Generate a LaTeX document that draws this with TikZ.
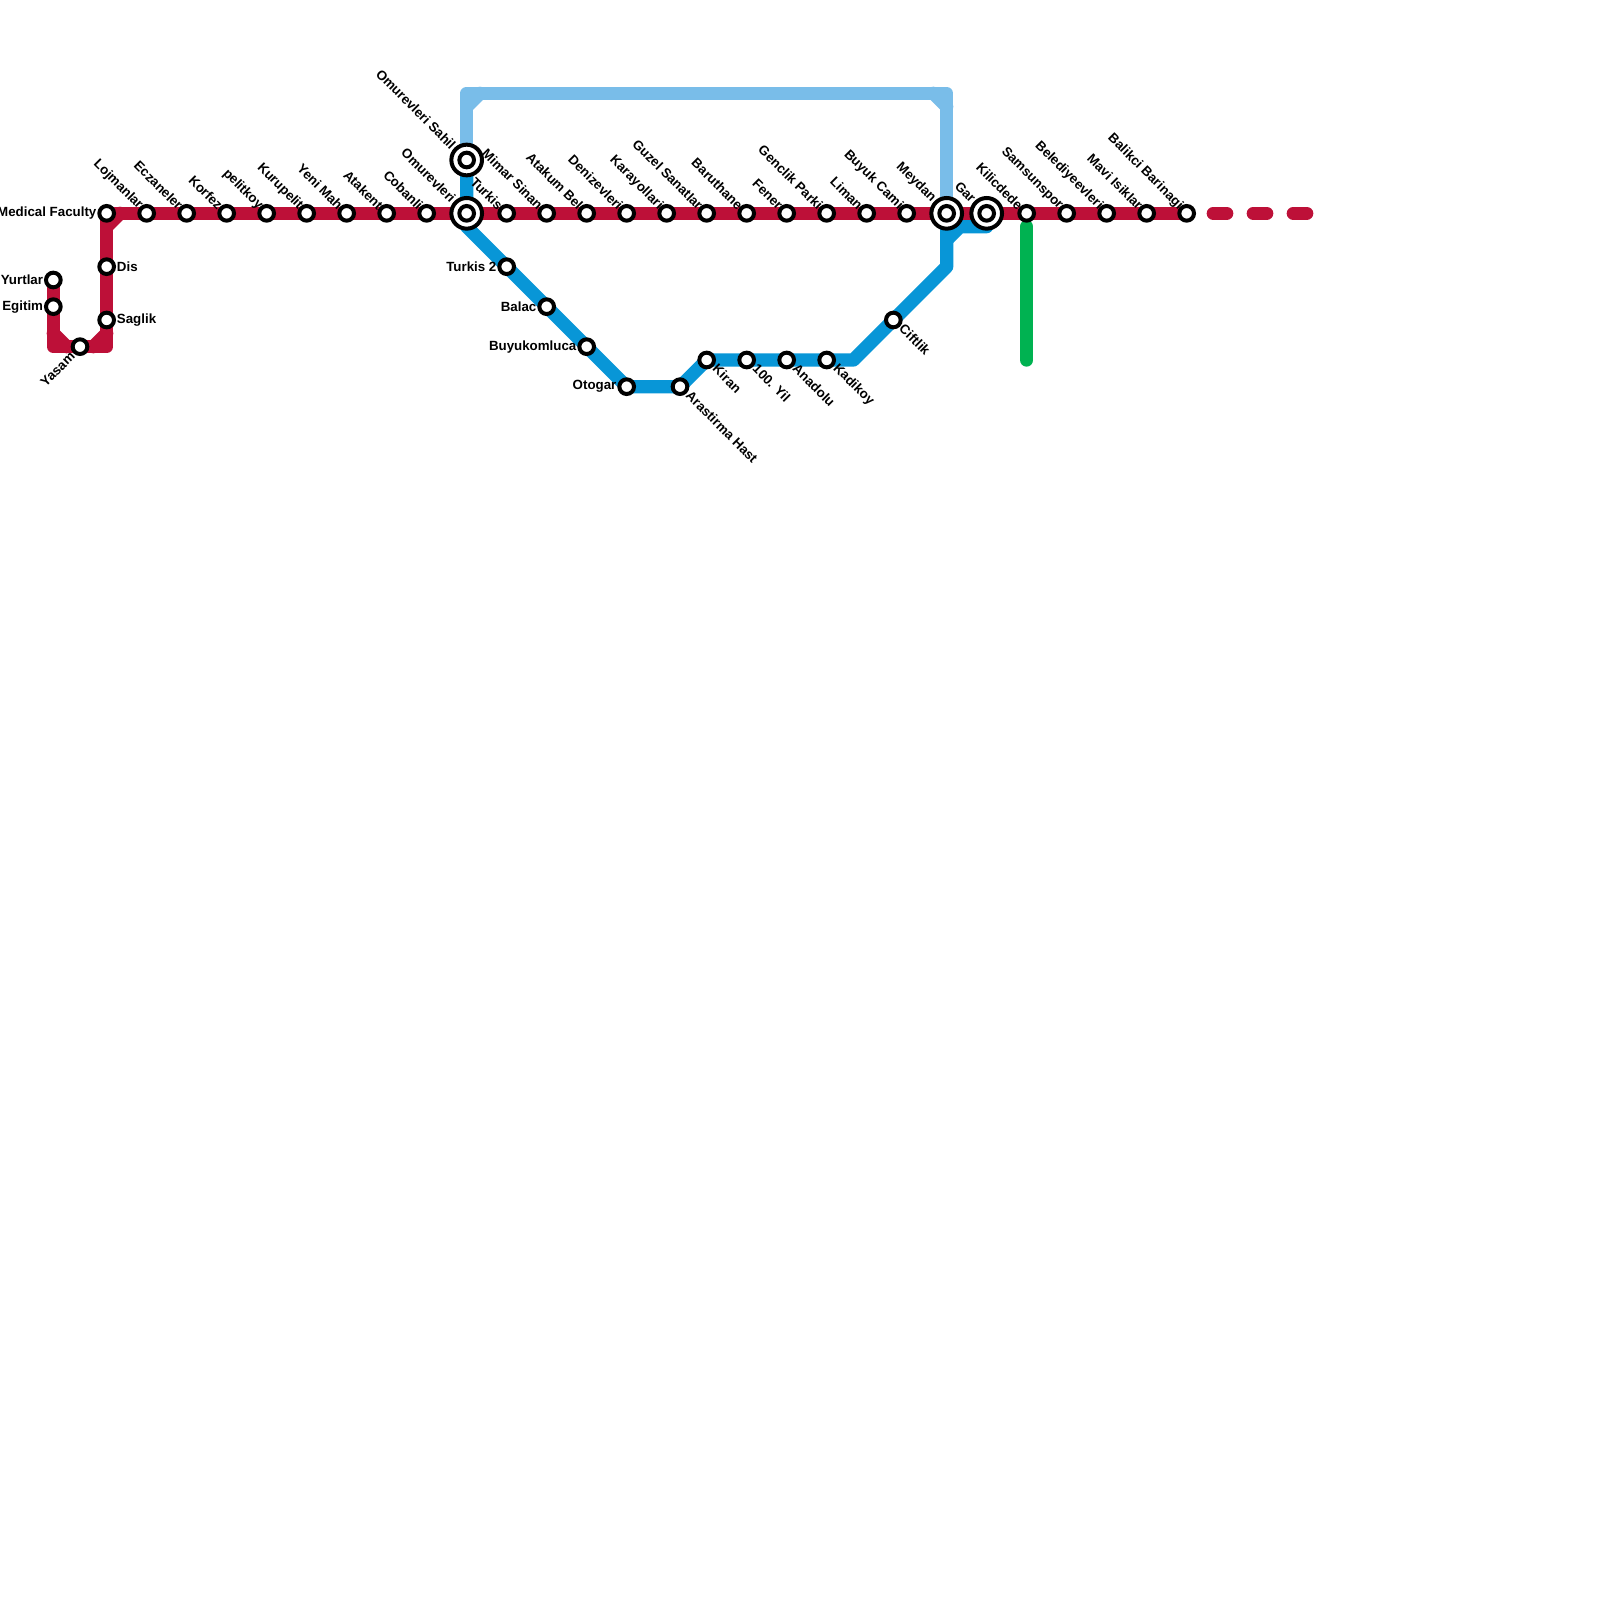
\documentclass[tikz,border=0pt]{standalone}
\usepackage{fontspec}
\setmainfont{Liberation Sans}
\usetikzlibrary{backgrounds}
\definecolor{cred}{HTML}{BD1038}
\definecolor{cblue}{HTML}{0896D7}
\definecolor{csky}{HTML}{79BDE9}
\definecolor{cgreen}{HTML}{00B251}
\tikzset{
  every picture/.style={x=0.25cm, y=0.25cm},
  stn/.style={circle, draw=black, fill=white, line width=0.075cm, minimum size=0.275cm, inner sep=0pt},
  bigstn/.style={circle, draw=black, fill=white, line width=0.075cm, minimum size=0.575cm, inner sep=0pt},
  metro/.style={draw=#1, line width=0.25cm, line join=round, line cap=round},
  toplabel/.style={font=\bfseries\fontsize{7.11}{8}\selectfont, rotate=-45, anchor=east, inner sep=0.5pt, xshift=#1},
  toplabel/.default=1.07pt,
  botlabel/.style={font=\bfseries\fontsize{7.11}{8}\selectfont, rotate=-45, anchor=west, inner sep=0.5pt, yshift=0.7pt},
  yasamlabel/.style={font=\bfseries\fontsize{7.11}{8}\selectfont, rotate=45, anchor=east, inner sep=0.5pt},
  sidelabel/.style={font=\bfseries\fontsize{7.11}{8}\selectfont, inner sep=0.3pt},
}
\begin{document}
\begin{tikzpicture}
  \useasboundingbox (0,0) rectangle (120,-120);

  \node[stn, label={[sidelabel]180:Yurtlar}] (yurtlar) at (4,-21) {};
  \node[stn, label={[sidelabel]180:Egitim}] (egitim) at (4,-23) {};
  \node[stn, label={[yasamlabel]225:Yasam}] (yasam) at (6,-26) {};
  \node[stn, label={[sidelabel]0:Saglik}] (saglik) at (8,-24) {};
  \node[stn, label={[sidelabel]0:Dis}] (dis) at (8,-20) {};
  \node[stn, label={[sidelabel]180:Medical Faculty}] (medical) at (8,-16) {};
  \node[stn, label={[toplabel]135:Lojmanlar}] (lojmanlar) at (11,-16) {};
  \node[stn, label={[toplabel]135:Eczaneler}] (eczaneler) at (14,-16) {};
  \node[stn, label={[toplabel]135:Korfez}] (korfez) at (17,-16) {};
  \node[stn, label={[toplabel]135:pelitkoy}] (pelitkoy) at (20,-16) {};
  \node[stn, label={[toplabel]135:Kurupelit}] (kurupelit) at (23,-16) {};
  \node[stn, label={[toplabel]135:Yeni Mah}] (yenimah) at (26,-16) {};
  \node[stn, label={[toplabel]135:Atakent}] (atakent) at (29,-16) {};
  \node[stn, label={[toplabel]135:Cobanli}] (cobanli) at (32,-16) {};
  \node[bigstn, label={[toplabel=0pt]135:Omurevleri}] (omurevleri) at (35,-16) {};
  \node[stn] (omurevleriin) at (35,-16) {};
  \node[bigstn, label={[toplabel=0pt]135:Omurevleri Sahil}] (sahil) at (35,-12) {};
  \node[stn] (sahilin) at (35,-12) {};
  \node[stn, label={[toplabel]135:Turkis}] (turkis) at (38,-16) {};
  \node[stn, label={[toplabel]135:Mimar Sinan}] (mimar) at (41,-16) {};
  \node[stn, label={[toplabel]135:Atakum Bel}] (atakum) at (44,-16) {};
  \node[stn, label={[toplabel]135:Denizevleri}] (denizevleri) at (47,-16) {};
  \node[stn, label={[toplabel]135:Karayollari}] (karayollari) at (50,-16) {};
  \node[stn, label={[toplabel]135:Guzel Sanatlar}] (guzel) at (53,-16) {};
  \node[stn, label={[toplabel]135:Baruthane}] (baruthane) at (56,-16) {};
  \node[stn, label={[toplabel]135:Fener}] (fener) at (59,-16) {};
  \node[stn, label={[toplabel]135:Genclik Parki}] (genclik) at (62,-16) {};
  \node[stn, label={[toplabel]135:Liman}] (liman) at (65,-16) {};
  \node[stn, label={[toplabel]135:Buyuk Cami}] (buyuk) at (68,-16) {};
  \node[bigstn, label={[toplabel=0pt]135:Meydan}] (meydan) at (71,-16) {};
  \node[stn] (meydanin) at (71,-16) {};
  \node[bigstn, label={[toplabel=0pt]135:Gar}] (gar) at (74,-16) {};
  \node[stn] (garin) at (74,-16) {};
  \node[stn, label={[toplabel]135:Kilicdede}] (kilicdede) at (77,-16) {};
  \node[stn, label={[toplabel]135:Samsunspor}] (samsunspor) at (80,-16) {};
  \node[stn, label={[toplabel]135:Belediyeevleri}] (belediye) at (83,-16) {};
  \node[stn, label={[toplabel]135:Mavi Isiklar}] (mavi) at (86,-16) {};
  \node[stn, label={[toplabel]135:Balikci Barinagi}] (balikci) at (89,-16) {};

  \node[stn, label={[sidelabel]180:Turkis 2}] (turkisb) at (38,-20) {};
  \node[stn, label={[sidelabel]180:Balac}] (balac) at (41,-23) {};
  \node[stn, label={[sidelabel]180:Buyukomluca}] (buyukomluca) at (44,-26) {};
  \node[stn, label={[sidelabel]180:Otogar}] (otogar) at (47,-29) {};
  \node[stn, label={[botlabel]315:Arastirma Hast}] (arastirma) at (51,-29) {};
  \node[stn, label={[botlabel]315:Kiran}] (kiran) at (53,-27) {};
  \node[stn, label={[botlabel]315:100. Yil}] (yuzyil) at (56,-27) {};
  \node[stn, label={[botlabel]315:Anadolu}] (anadolu) at (59,-27) {};
  \node[stn, label={[botlabel]315:Kadikoy}] (kadikoy) at (62,-27) {};
  \node[stn, label={[botlabel]315:Ciftlik}] (ciftlik) at (67,-24) {};

  \coordinate (redsw) at (4,-26);
  \coordinate (redswa) at (4,-25);
  \coordinate (redswb) at (5,-26);
  \coordinate (redse) at (8,-26);
  \coordinate (redsea) at (7,-26);
  \coordinate (redseb) at (8,-25);
  \coordinate (rednw) at (8,-17);
  \coordinate (rednwb) at (9,-16);
  \coordinate (skynw) at (35,-7);
  \coordinate (skynwa) at (35,-8);
  \coordinate (skynwb) at (36,-7);
  \coordinate (skyne) at (71,-7);
  \coordinate (skynea) at (70,-7);
  \coordinate (skyneb) at (71,-8);
  \coordinate (bluedown) at (35,-17);
  \coordinate (bluebend) at (64,-27);
  \coordinate (blueup) at (71,-20);
  \coordinate (bluefork) at (71,-18);
  \coordinate (bluearm) at (72,-17);
  \coordinate (blueend) at (74,-17);
  \coordinate (greentop) at (77,-17);
  \coordinate (greenend) at (77,-27);
  \coordinate (dashstart) at (91,-16);
  \coordinate (dashend) at (98,-16);

  \begin{scope}[on background layer]
    \draw[metro=csky] (sahil.center) -- (skynw) -- (skyne) -- (meydan.center);
    \draw[metro=csky] (skynwa) -- (skynwb);
    \draw[metro=csky] (skynea) -- (skyneb);
    \draw[metro=cblue] (sahil.center) -- (omurevleri.center) -- (bluedown) -- (turkisb.center) -- (balac.center) -- (buyukomluca.center) -- (otogar.center) -- (arastirma.center) -- (kiran.center) -- (yuzyil.center) -- (anadolu.center) -- (kadikoy.center) -- (bluebend) -- (ciftlik.center) -- (blueup) -- (meydan.center);
    \draw[metro=cblue] (bluefork) -- (bluearm) -- (blueend);
    \draw[metro=cgreen] (greentop) -- (greenend);
    \draw[metro=cred] (yurtlar.center) -- (egitim.center) -- (redsw) -- (yasam.center) -- (redse) -- (saglik.center) -- (dis.center) -- (medical.center) -- (lojmanlar.center) -- (eczaneler.center) -- (korfez.center) -- (pelitkoy.center) -- (kurupelit.center) -- (yenimah.center) -- (atakent.center) -- (cobanli.center) -- (omurevleri.center) -- (turkis.center) -- (mimar.center) -- (atakum.center) -- (denizevleri.center) -- (karayollari.center) -- (guzel.center) -- (baruthane.center) -- (fener.center) -- (genclik.center) -- (liman.center) -- (buyuk.center) -- (meydan.center) -- (gar.center) -- (kilicdede.center) -- (samsunspor.center) -- (belediye.center) -- (mavi.center) -- (balikci.center);
    \draw[metro=cred] (redswa) -- (redswb);
    \draw[metro=cred] (redsea) -- (redseb);
    \draw[metro=cred] (rednw) -- (rednwb);
    \draw[metro=cred, dash pattern=on 0.25cm off 0.5cm] (dashstart) -- (dashend);
  \end{scope}
\end{tikzpicture}
\end{document}
